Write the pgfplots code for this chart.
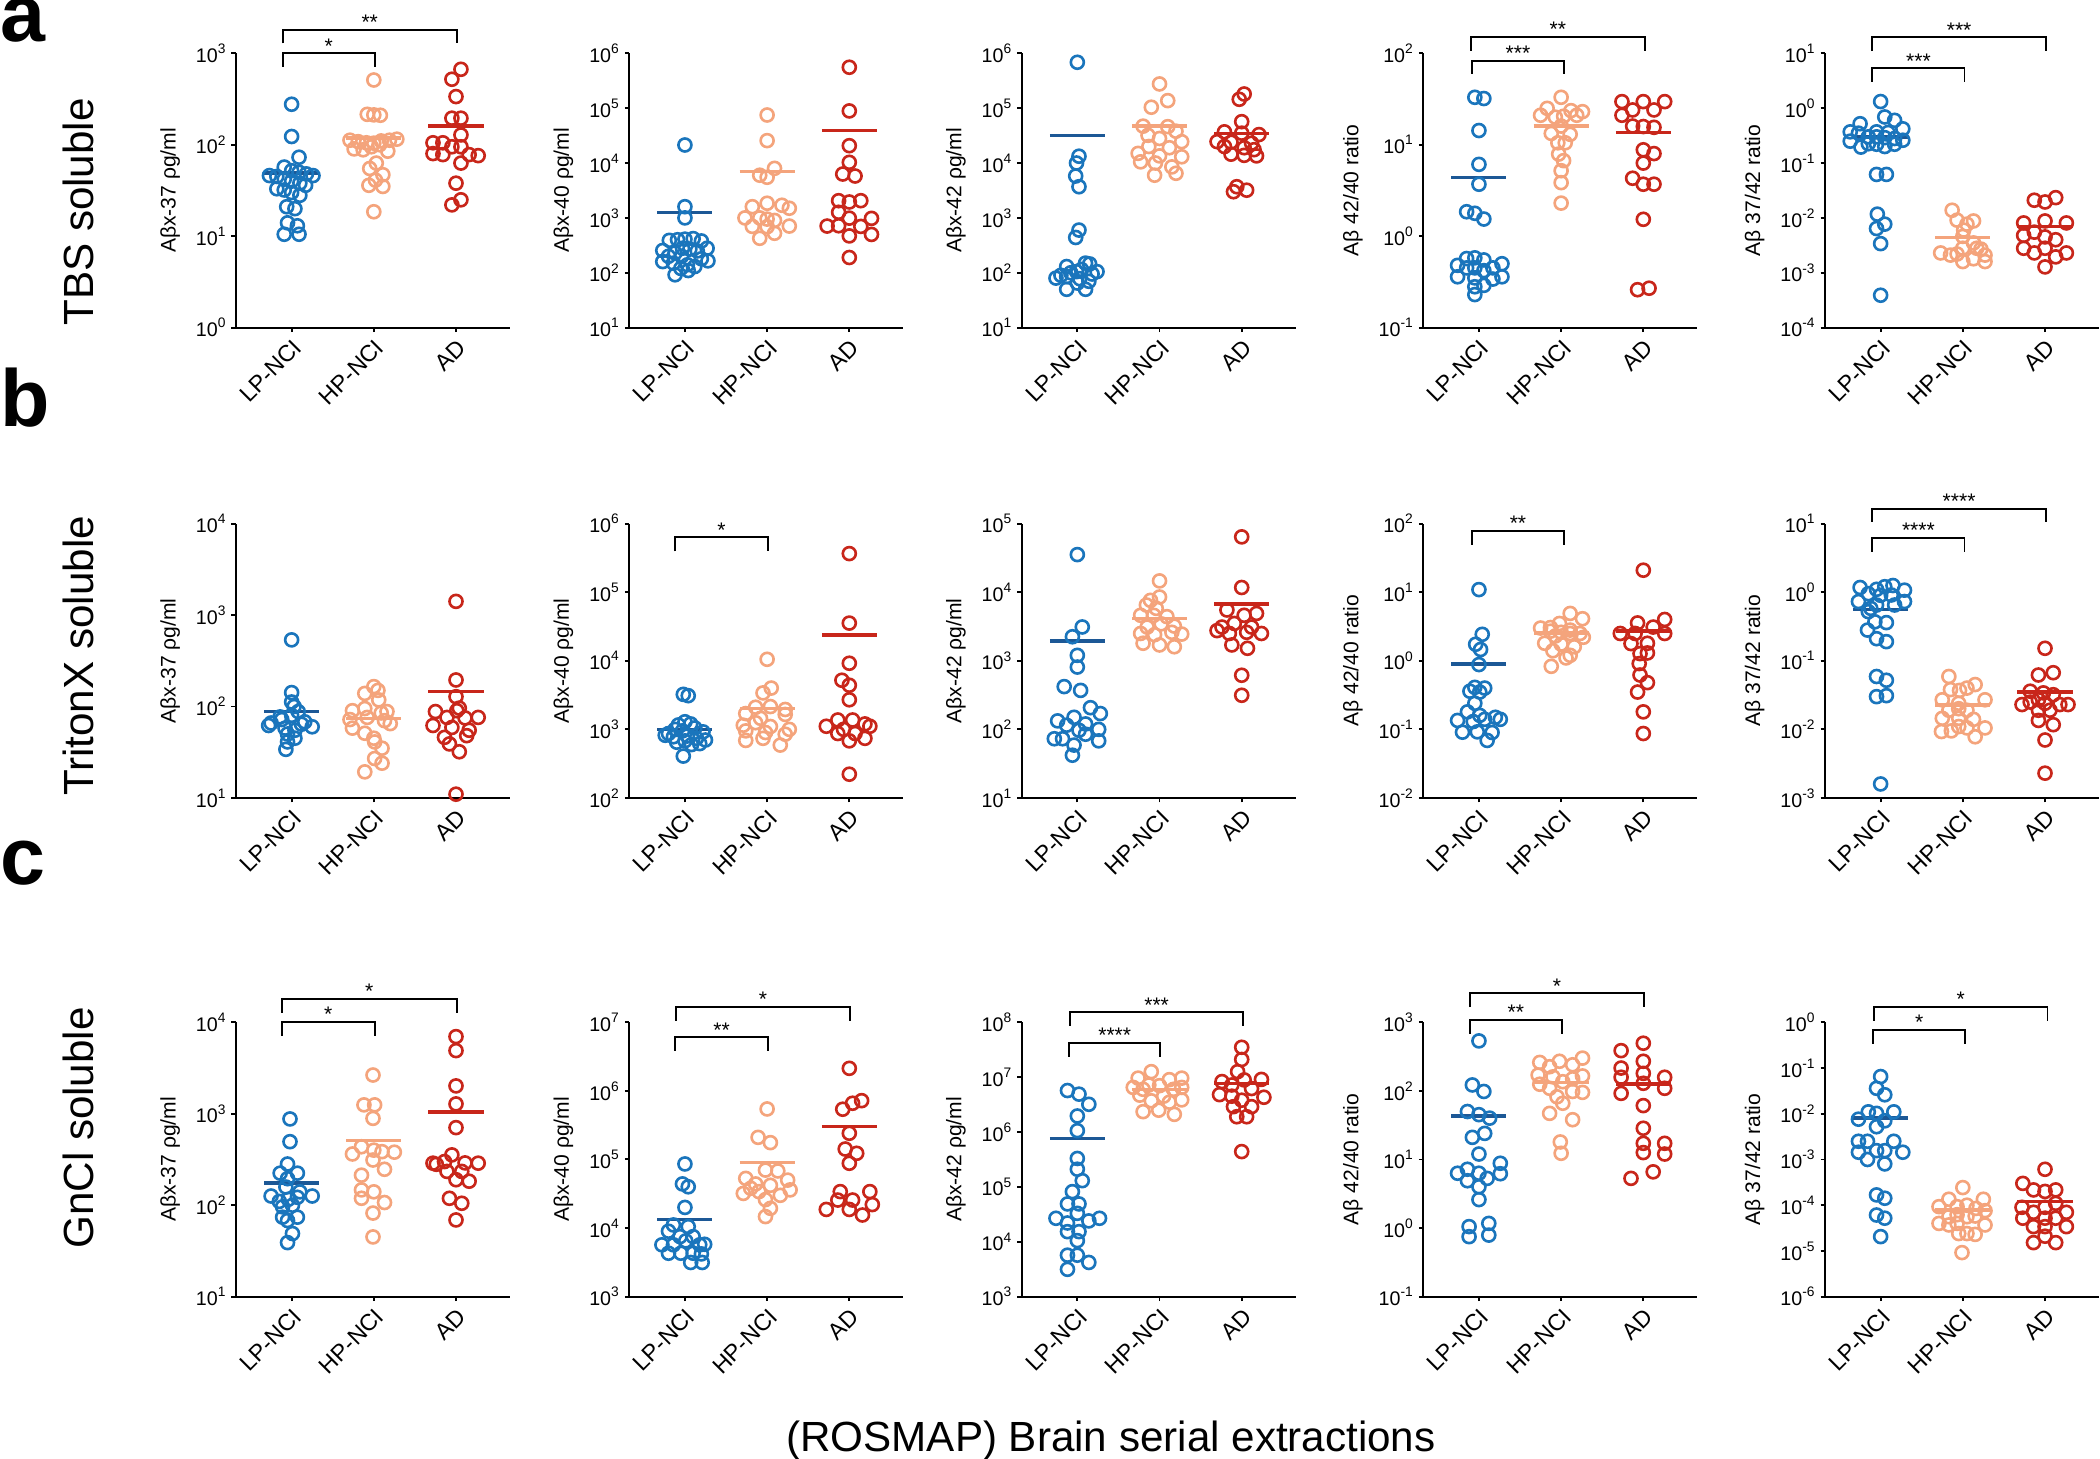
\documentclass[border=0pt]{standalone}
\usepackage{fontspec}
\setmainfont{Liberation Sans}
\usepackage{pgfplots}
\pgfplotsset{compat=1.18}

\definecolor{cBlue}{RGB}{26,117,188}
\definecolor{cBlueD}{RGB}{28,88,150}
\definecolor{cOran}{RGB}{244,164,124}
\definecolor{cRed}{RGB}{200,38,26}

\newcommand{\E}[1]{10\textsuperscript{#1}}

\pgfplotsset{
  scale only axis, width=2.74cm, height=2.744cm,
  xmin=0.323, xmax=3.657,
  xtick={1,2,3}, xticklabels={LP-NCI,HP-NCI,AD},
  axis x line*=bottom, axis y line*=left,
  tick align=outside, major tick length=0.45mm,
  axis line style={line width=0.55pt},
  tick style={black, line width=0.55pt},
  clip=false,
  xticklabel style={rotate=45, anchor=north east, font=\fontsize{6.6}{7}\selectfont, inner sep=1pt},
  yticklabel style={font=\fontsize{5.6}{6}\selectfont, inner sep=1pt},
  ylabel style={font=\fontsize{6}{7}\selectfont},
}

% group of dots: colour, coordinates
\newcommand{\grp}[2]{\addplot[only marks, mark=o, mark size=1.85pt, line width=0.75pt, color=#1] coordinates {#2};}
% mean bar: colour, x1, x2, y
\newcommand{\mean}[4]{\addplot[color=#1, line width=1pt] coordinates {(#2,#4) (#3,#4)};}
% bracket: x1, x2, y line, y legs, x text, text
\newcommand{\brk}[6]{%
  \addplot[black, line width=0.55pt] coordinates {(#1,#4) (#1,#3) (#2,#3) (#2,#4)};
  \node[font=\fontsize{6}{6}\selectfont, anchor=base, inner sep=0pt] at (axis cs:#5,#3) {#6};}

\begin{document}
\begin{tikzpicture}
\useasboundingbox (0,0) rectangle (21,14.59);

% ---------- row a: TBS soluble ----------
\begin{axis}[ymode=log, yminorticks=false, at={(2.36cm,11.313cm)}, anchor=south west, ymin=1, ymax=1e3,
  ytick={1,10,100,1000}, yticklabels={\E{0},\E{1},\E{2},\E{3}}, ylabel={Aβx-37 ρg/ml}]
\grp{cBlue}{(1.0,277)(1.0,123)(1.09,73)(0.91,57)(1.0,52)(1.09,50)(1.18,48)(1.26,46)(0.73,46)(0.82,45)(0.91,42)(1.0,40)(1.1,38)(1.17,36)(0.82,33)(0.91,32)(1.0,30)(1.1,28)(0.94,21)(1.04,20)(0.95,14)(1.07,13)(0.91,10.5)(1.09,10.5)}
\grp{cOran}{(2.0,510)(1.92,215)(2.0,212)(2.08,210)(1.71,112)(1.81,108)(1.91,105)(2.0,104)(2.09,110)(2.19,112)(2.28,115)(1.76,90)(1.87,88)(1.97,95)(2.07,100)(2.17,85)(2.03,63)(1.95,55)(2.11,47)(2.02,41)(1.94,36)(2.11,35)(2.0,18.5)}
\grp{cRed}{(3.06,668)(2.95,520)(3.0,336)(2.95,195)(3.06,195)(3.06,128)(2.72,105)(2.84,105)(2.95,95)(3.06,95)(2.72,80)(2.84,78)(3.16,78)(3.27,76)(3.06,63)(3.0,38)(2.95,22)(3.06,25)}
\mean{cBlueD}{0.665}{1.335}{49}
\mean{cOran}{1.665}{2.335}{118}
\mean{cRed}{2.665}{3.335}{160}
\brk{0.89}{2.01}{1000}{714}{1.45}{*}
\brk{0.89}{3.01}{1799}{1285}{1.95}{**}
\end{axis}

\begin{axis}[ymode=log, yminorticks=false, at={(6.293cm,11.313cm)}, anchor=south west, ymin=10, ymax=1e6,
  ytick={1e1,1e2,1e3,1e4,1e5,1e6}, yticklabels={\E{1},\E{2},\E{3},\E{4},\E{5},\E{6}}, ylabel={Aβx-40 ρg/ml}]
\grp{cBlue}{(1.0,21300)(1.0,1600)(1.0,1000)(0.73,255)(0.81,390)(0.91,400)(1.0,410)(1.1,420)(1.2,380)(1.27,280)(0.8,200)(0.88,230)(0.97,280)(1.06,270)(1.15,250)(1.28,165)(0.73,160)(0.86,150)(0.96,200)(1.03,140)(1.12,130)(0.88,92)(1.04,110)(1.2,180)(0.95,120)}
\grp{cOran}{(2.0,75000)(2.0,25600)(2.09,8000)(1.91,6000)(2.0,5500)(2.0,1850)(1.82,1600)(2.18,1700)(2.27,1500)(1.73,1000)(1.91,1000)(2.0,950)(2.09,900)(1.82,700)(2.0,690)(2.27,710)(1.91,425)(2.09,525)}
\grp{cRed}{(3.0,556000)(3.0,89000)(3.0,20700)(3.0,10300)(2.92,6300)(3.07,5800)(2.87,2060)(3.0,1950)(3.14,2060)(2.87,1265)(3.0,990)(3.27,980)(2.73,710)(2.87,720)(3.14,700)(3.0,470)(3.27,500)(3.0,190)}
\mean{cBlueD}{0.665}{1.335}{1265}
\mean{cOran}{1.665}{2.335}{6970}
\mean{cRed}{2.665}{3.335}{38900}
\end{axis}

\begin{axis}[ymode=log, yminorticks=false, at={(10.217cm,11.313cm)}, anchor=south west, ymin=10, ymax=1e6,
  ytick={1e1,1e2,1e3,1e4,1e5,1e6}, yticklabels={\E{1},\E{2},\E{3},\E{4},\E{5},\E{6}}, ylabel={Aβx-42 ρg/ml}]
\grp{cBlue}{(1.0,685000)(1.02,13300)(0.99,10000)(0.98,5800)(1.02,3700)(1.02,600)(0.98,440)(0.87,130)(1.1,150)(0.74,80)(1.24,105)(0.99,105)(0.87,85)(1.14,70)(0.87,50)(1.1,50)(0.92,100)(1.05,115)(1.18,95)(0.8,90)(1.03,78)(1.0,65)(1.15,145)}
\grp{cOran}{(2.0,276000)(2.1,137000)(1.9,104000)(1.8,47000)(2.1,46000)(2.2,38000)(1.86,32000)(2.0,28000)(2.27,24500)(1.87,20000)(2.12,19000)(1.74,15000)(2.0,13500)(2.27,13000)(1.77,10500)(1.95,10000)(2.15,8500)(2.2,6500)(1.94,6000)}
\grp{cRed}{(3.03,181000)(2.97,145000)(3.0,56700)(2.79,37000)(3.0,35000)(3.21,33000)(2.7,24500)(2.87,24000)(3.12,23000)(2.79,20000)(3.03,19000)(3.15,17500)(2.87,14500)(3.03,13800)(3.18,13500)(2.94,3700)(3.06,3200)(2.9,3000)}
\mean{cBlueD}{0.665}{1.335}{32000}
\mean{cOran}{1.665}{2.335}{47400}
\mean{cRed}{2.665}{3.335}{34600}
\end{axis}

\begin{axis}[ymode=log, yminorticks=false, at={(14.233cm,11.313cm)}, anchor=south west, ymin=0.1, ymax=100,
  ytick={0.1,1,10,100}, yticklabels={\E{-1},\E{0},\E{1},\E{2}}, ylabel={Aβ 42/40 ratio}]
\grp{cBlue}{(0.95,33)(1.06,32)(1.0,14.3)(1.0,6.1)(1.0,3.7)(0.85,1.85)(0.95,1.78)(1.06,1.54)(0.85,0.57)(0.95,0.58)(1.06,0.55)(0.74,0.48)(1.28,0.5)(0.85,0.45)(0.95,0.45)(1.06,0.42)(1.17,0.45)(0.74,0.36)(1.28,0.36)(1.17,0.34)(0.95,0.35)(1.06,0.29)(0.95,0.28)(0.95,0.23)}
\grp{cOran}{(2.0,33)(1.83,25)(2.12,23.6)(2.26,23)(1.75,21)(1.93,20)(2.03,20.5)(2.19,21)(2.0,16)(1.88,13.3)(2.11,13)(1.96,10.5)(2.05,10.5)(1.97,7.9)(2.03,6.7)(2.0,5.2)(2.0,3.85)(2.0,2.3)}
\grp{cRed}{(2.74,29.6)(3.0,29.6)(3.26,29.6)(2.87,24)(3.13,24)(2.74,21)(2.87,16)(3.0,15.8)(3.13,15.5)(3.0,8.8)(3.13,8)(3.0,6.3)(2.87,4.3)(3.0,3.7)(3.13,3.7)(3.0,1.53)(2.93,0.26)(3.07,0.27)}
\mean{cBlueD}{0.665}{1.335}{4.4}
\mean{cOran}{1.665}{2.335}{16}
\mean{cRed}{2.665}{3.335}{13.6}
\brk{0.91}{2.04}{83}{59.4}{1.475}{***}
\brk{0.9}{3.02}{152}{107}{1.96}{**}
\end{axis}

\begin{axis}[ymode=log, yminorticks=false, at={(18.25cm,11.313cm)}, anchor=south west, ymin=1e-4, ymax=10,
  ytick={1e-4,1e-3,1e-2,1e-1,1,10}, yticklabels={\E{-4},\E{-3},\E{-2},\E{-1},\E{0},\E{1}}, ylabel={Aβ 37/42 ratio}]
\grp{cBlue}{(1.0,1.32)(1.05,0.69)(1.17,0.6)(0.75,0.52)(0.63,0.37)(1.27,0.42)(0.95,0.37)(1.09,0.36)(0.73,0.35)(0.85,0.3)(0.95,0.3)(1.05,0.29)(1.17,0.28)(1.27,0.26)(0.63,0.25)(0.85,0.225)(0.95,0.22)(1.05,0.2)(1.17,0.22)(0.76,0.195)(0.95,0.062)(1.07,0.062)(0.96,0.0117)(1.05,0.0077)(0.95,0.0064)(1.0,0.0034)(1.0,0.00039)}
\grp{cOran}{(1.87,0.0138)(1.93,0.0091)(2.13,0.0088)(2.05,0.0077)(2.01,0.006)(2.0,0.0046)(2.13,0.0035)(1.73,0.0023)(1.85,0.0021)(2.0,0.0028)(2.17,0.0028)(2.27,0.0021)(1.93,0.0022)(2.0,0.0016)(2.13,0.0018)(2.27,0.0016)(2.22,0.0027)}
\grp{cRed}{(2.87,0.021)(3.0,0.0195)(3.13,0.0234)(2.74,0.0081)(3.0,0.0088)(3.26,0.0081)(2.74,0.0048)(2.87,0.0055)(3.0,0.0045)(3.13,0.004)(2.74,0.0028)(2.87,0.0023)(3.0,0.0028)(3.13,0.00195)(3.26,0.0023)(3.0,0.00128)}
\mean{cBlueD}{0.665}{1.335}{0.3}
\mean{cOran}{1.665}{2.335}{0.0044}
\mean{cRed}{2.665}{3.335}{0.007}
\brk{0.9}{2.02}{5.33}{3.05}{1.46}{***}
\brk{0.9}{3.01}{19.5}{10.9}{1.955}{***}
\end{axis}

% ---------- row b: TritonX soluble ----------
\begin{axis}[ymode=log, yminorticks=false, at={(2.36cm,6.61cm)}, anchor=south west, ymin=10, ymax=1e4,
  ytick={1e1,1e2,1e3,1e4}, yticklabels={\E{1},\E{2},\E{3},\E{4}}, ylabel={Aβx-37 ρg/ml}]
\grp{cBlue}{(1.0,535)(1.0,142)(1.0,112)(1.03,100)(0.75,66)(0.86,77)(1.0,80)(1.16,68)(0.72,62)(0.92,58)(1.12,64)(1.25,60)(1.04,55)(0.95,50)(1.04,45)(0.95,41)(1.08,88)(0.88,72)(0.93,34)}
\grp{cOran}{(2.0,165)(1.89,139)(2.06,118)(2.05,150)(1.74,90)(1.89,95)(2.16,88)(1.71,72)(1.92,76)(2.09,85)(1.74,58)(1.89,51)(2.13,70)(2.01,41)(2.1,35)(2.1,24)(2.01,27)(1.89,19.3)(2.2,65)(2.0,45)}
\grp{cRed}{(3.0,1410)(3.0,195)(3.0,128)(2.75,88)(2.89,76)(3.04,96)(3.27,76)(3.11,75)(2.72,62)(2.95,59)(3.16,55)(2.86,46)(3.13,48)(3.01,90)(2.92,39)(3.04,32)(3.0,11)}
\mean{cBlueD}{0.665}{1.335}{88}
\mean{cOran}{1.665}{2.335}{74}
\mean{cRed}{2.665}{3.335}{145}
\end{axis}

\begin{axis}[ymode=log, yminorticks=false, at={(6.293cm,6.61cm)}, anchor=south west, ymin=100, ymax=1e6,
  ytick={1e2,1e3,1e4,1e5,1e6}, yticklabels={\E{2},\E{3},\E{4},\E{5},\E{6}}, ylabel={Aβx-40 ρg/ml}]
\grp{cBlue}{(0.98,3240)(1.04,3100)(1.0,1290)(0.92,1160)(1.07,1200)(0.8,870)(0.88,1000)(0.97,950)(1.12,1050)(1.22,920)(0.76,820)(0.86,780)(1.03,800)(1.14,740)(1.25,700)(0.9,650)(1.0,680)(1.18,620)(1.08,600)(0.98,408)}
\grp{cOran}{(2.0,10500)(2.05,4000)(1.95,3400)(1.86,2100)(2.04,2150)(2.22,1950)(1.74,1700)(1.92,1450)(2.22,1650)(1.71,1150)(1.86,1250)(2.04,1100)(2.27,1000)(1.74,950)(1.98,900)(2.22,850)(1.74,690)(1.95,740)(2.16,590)}
\grp{cRed}{(3.0,365000)(3.0,35400)(3.0,9200)(2.91,5200)(3.0,4400)(3.0,2700)(2.72,1110)(2.86,1370)(3.04,1370)(3.19,1200)(3.25,1110)(2.86,870)(3.07,870)(3.19,740)(3.0,680)(2.93,1000)(3.0,222)}
\mean{cBlueD}{0.665}{1.335}{1000}
\mean{cOran}{1.665}{2.335}{2020}
\mean{cRed}{2.665}{3.335}{23900}
\brk{0.88}{2.01}{631000}{394000}{1.445}{*}
\end{axis}

\begin{axis}[ymode=log, yminorticks=false, at={(10.217cm,6.61cm)}, anchor=south west, ymin=10, ymax=1e5,
  ytick={1e1,1e2,1e3,1e4,1e5}, yticklabels={\E{1},\E{2},\E{3},\E{4},\E{5}}, ylabel={Aβx-42 ρg/ml}]
\grp{cBlue}{(1.0,35300)(1.06,3110)(0.94,2240)(1.0,1200)(1.0,810)(0.84,420)(1.04,370)(1.16,207)(0.76,133)(0.96,150)(1.28,170)(0.72,73)(0.87,115)(1.02,97)(1.26,100)(0.82,73)(0.96,59)(1.1,85)(1.26,68)(0.94,42)(1.1,120)}
\grp{cOran}{(2.0,14600)(2.0,8500)(1.89,7600)(1.84,6500)(1.96,5800)(1.77,4600)(1.93,4600)(2.09,4400)(2.02,3450)(2.18,3200)(1.85,3100)(1.77,2500)(1.94,2400)(2.15,2600)(2.27,2450)(1.8,1800)(2.0,1700)(2.18,1600)}
\grp{cRed}{(3.0,64000)(3.0,11700)(2.82,5500)(3.03,4600)(3.18,4900)(2.76,3100)(2.91,3500)(3.12,3100)(3.24,2500)(2.7,2750)(2.85,2500)(3.06,2600)(2.88,1700)(3.07,1520)(3.0,615)(3.0,314)}
\mean{cBlueD}{0.665}{1.335}{1945}
\mean{cOran}{1.665}{2.335}{4120}
\mean{cRed}{2.665}{3.335}{6670}
\end{axis}

\begin{axis}[ymode=log, yminorticks=false, at={(14.233cm,6.61cm)}, anchor=south west, ymin=0.01, ymax=100,
  ytick={0.01,0.1,1,10,100}, yticklabels={\E{-2},\E{-1},\E{0},\E{1},\E{2}}, ylabel={Aβ 42/40 ratio}]
\grp{cBlue}{(1.0,10.9)(1.04,2.43)(0.96,1.74)(1.02,1.46)(1.0,0.88)(0.95,0.41)(1.07,0.4)(0.89,0.36)(1.01,0.35)(0.95,0.24)(0.86,0.18)(1.01,0.16)(1.2,0.15)(0.74,0.135)(0.93,0.13)(1.07,0.14)(1.26,0.14)(0.8,0.091)(0.98,0.092)(1.16,0.09)(1.1,0.069)}
\grp{cOran}{(2.11,4.9)(2.26,4.1)(1.98,3.5)(1.87,3.05)(1.75,3.0)(2.11,2.8)(1.87,2.7)(2.0,2.6)(2.23,2.5)(1.93,2.3)(2.11,2.5)(2.27,2.2)(1.8,1.8)(2.0,1.75)(2.16,1.6)(1.9,1.4)(2.11,1.2)(2.06,1.1)(1.88,0.83)}
\grp{cRed}{(3.0,20.9)(2.93,3.56)(3.26,4.0)(2.72,2.5)(2.9,2.5)(3.12,3.1)(3.26,2.5)(2.85,1.78)(3.05,1.8)(2.96,1.27)(3.05,1.3)(2.95,0.91)(2.96,0.62)(3.05,0.48)(2.93,0.35)(3.0,0.18)(3.0,0.087)}
\mean{cBlueD}{0.665}{1.335}{0.89}
\mean{cOran}{1.665}{2.335}{2.55}
\mean{cRed}{2.665}{3.335}{2.72}
\brk{0.91}{2.04}{78}{49.4}{1.475}{**}
\end{axis}

\begin{axis}[ymode=log, yminorticks=false, at={(18.25cm,6.61cm)}, anchor=south west, ymin=1e-3, ymax=10,
  ytick={1e-3,1e-2,1e-1,1,10}, yticklabels={\E{-3},\E{-2},\E{-1},\E{0},\E{1}}, ylabel={Aβ 37/42 ratio}]
\grp{cBlue}{(0.75,1.17)(1.15,1.25)(1.29,1.07)(1.05,1.2)(0.95,1.1)(0.85,0.95)(1.13,0.91)(1.0,0.9)(0.73,0.73)(1.29,0.73)(0.95,0.65)(1.17,0.65)(0.88,0.58)(0.85,0.52)(0.93,0.37)(1.07,0.36)(0.84,0.28)(0.95,0.21)(1.07,0.19)(0.95,0.059)(1.07,0.052)(0.95,0.030)(1.07,0.031)(1.0,0.0016)}
\grp{cOran}{(1.83,0.059)(1.85,0.038)(1.96,0.037)(2.05,0.04)(2.15,0.045)(1.75,0.027)(1.95,0.024)(2.27,0.027)(1.83,0.019)(2.05,0.019)(1.95,0.02)(1.75,0.0145)(1.95,0.0145)(2.13,0.014)(2.05,0.0105)(2.27,0.0105)(1.95,0.011)(1.74,0.0093)(1.86,0.0095)(2.15,0.0078)}
\grp{cRed}{(3.0,0.152)(2.92,0.062)(3.1,0.067)(2.82,0.036)(2.98,0.034)(3.1,0.032)(2.92,0.027)(2.72,0.023)(2.82,0.025)(3.0,0.024)(3.18,0.023)(3.28,0.023)(2.92,0.019)(3.06,0.019)(2.92,0.0135)(3.1,0.0117)(3.0,0.007)(3.0,0.0023)}
\mean{cBlueD}{0.665}{1.335}{0.56}
\mean{cOran}{1.665}{2.335}{0.0228}
\mean{cRed}{2.665}{3.335}{0.0348}
\brk{0.9}{2.02}{6.2}{3.87}{1.46}{****}
\brk{0.9}{3.01}{16.5}{10.6}{1.955}{****}
\end{axis}

% ---------- row c: GnCl soluble ----------
\begin{axis}[ymode=log, yminorticks=false, at={(2.36cm,1.623cm)}, anchor=south west, ymin=10, ymax=1e4,
  ytick={1e1,1e2,1e3,1e4}, yticklabels={\E{1},\E{2},\E{3},\E{4}}, ylabel={Aβx-37 ρg/ml}]
\grp{cBlue}{(0.98,877)(0.98,495)(0.95,282)(0.86,224)(1.07,224)(0.95,195)(0.93,158)(1.1,140)(0.75,126)(0.96,116)(1.07,122)(1.25,126)(0.85,110)(0.89,96)(1.01,100)(0.89,74)(1.07,74)(0.95,68)(1.01,49)(0.95,39)}
\grp{cOran}{(1.99,2650)(1.88,1250)(2.01,1250)(1.99,890)(1.85,436)(2.0,400)(2.1,385)(1.74,363)(2.25,380)(1.99,312)(2.13,247)(1.85,213)(1.85,147)(2.0,140)(1.85,119)(2.13,107)(1.99,82)(1.99,45)}
\grp{cRed}{(3.0,6970)(3.0,4900)(3.0,2015)(3.0,1280)(3.0,705)(2.95,355)(2.72,288)(2.86,300)(3.11,290)(3.27,288)(2.76,280)(2.89,234)(3.07,234)(3.16,183)(3.0,190)(2.92,119)(3.07,105)(3.0,69)}
\mean{cBlueD}{0.665}{1.335}{176}
\mean{cOran}{1.665}{2.335}{508}
\mean{cRed}{2.665}{3.335}{1040}
\brk{0.88}{2.01}{10160}{7080}{1.445}{*}
\brk{0.88}{3.01}{18000}{12760}{1.945}{*}
\end{axis}

\begin{axis}[ymode=log, yminorticks=false, at={(6.293cm,1.623cm)}, anchor=south west, ymin=1e3, ymax=1e7,
  ytick={1e3,1e4,1e5,1e6,1e7}, yticklabels={\E{3},\E{4},\E{5},\E{6},\E{7}}, ylabel={Aβx-40 ρg/ml}]
\grp{cBlue}{(1.0,86000)(0.97,44000)(1.04,40000)(1.0,20000)(0.86,11100)(1.04,10500)(0.8,9000)(0.94,7500)(1.1,7500)(0.72,5700)(0.86,5700)(1.01,6500)(1.18,5700)(1.24,5800)(0.8,4300)(0.95,4300)(1.1,4300)(1.2,4200)(1.07,3150)(1.21,3150)}
\grp{cOran}{(2.0,545000)(1.89,210000)(2.04,176000)(1.98,70000)(1.74,53000)(2.13,68000)(1.71,32000)(1.86,44000)(2.04,42000)(2.28,36000)(2.16,30000)(1.98,26000)(2.04,19400)(1.98,14700)(1.8,38000)(1.9,34000)(2.25,50000)}
\grp{cRed}{(3.0,2.13e6)(2.92,540000)(3.15,720000)(3.04,660000)(3.0,241000)(2.95,142000)(3.09,123000)(3.0,88000)(2.89,34000)(2.72,18700)(2.86,25600)(3.04,25600)(3.25,34000)(3.16,15500)(3.0,18700)(3.28,22000)}
\mean{cBlueD}{0.665}{1.335}{13400}
\mean{cOran}{1.665}{2.335}{90000}
\mean{cRed}{2.665}{3.335}{301000}
\brk{0.88}{2.01}{6.04e6}{3.86e6}{1.445}{**}
\brk{0.89}{3.01}{1.69e7}{1.06e7}{1.95}{*}
\end{axis}

\begin{axis}[ymode=log, yminorticks=false, at={(10.217cm,1.623cm)}, anchor=south west, ymin=1e3, ymax=1e8,
  ytick={1e3,1e4,1e5,1e6,1e7,1e8}, yticklabels={\E{3},\E{4},\E{5},\E{6},\E{7},\E{8}}, ylabel={Aβx-42 ρg/ml}]
\grp{cBlue}{(0.88,5.7e6)(1.02,4.9e6)(1.14,3.2e6)(1.0,1.96e6)(1.0,1.06e6)(1.0,330000)(1.0,210000)(1.06,130000)(0.94,82000)(0.88,49000)(1.02,49000)(1.0,33000)(0.74,26800)(1.27,26800)(1.14,24000)(0.88,22000)(0.88,15300)(1.02,15300)(1.0,10500)(0.88,5700)(1.0,5700)(1.14,4200)(0.88,3150)}
\grp{cOran}{(1.9,12.6e6)(1.74,9.6e6)(2.12,9e6)(2.27,9.6e6)(1.87,7.2e6)(2.0,7e6)(1.8,6e6)(2.17,6e6)(1.68,6.5e6)(2.27,6.5e6)(1.76,4.7e6)(2.05,4.5e6)(2.27,3.85e6)(1.9,3.7e6)(2.12,3.5e6)(1.99,2.5e6)(1.8,2.35e6)(2.18,2.1e6)}
\grp{cRed}{(3.0,35e6)(3.0,21e6)(2.95,12.6e6)(2.76,8.3e6)(3.03,8.9e6)(3.24,9.1e6)(2.88,7.2e6)(3.12,6.2e6)(2.73,4.8e6)(2.88,4.5e6)(3.27,4.3e6)(3.0,3.8e6)(2.9,2.9e6)(3.12,2.9e6)(2.94,1.9e6)(3.06,1.9e6)(3.0,440000)}
\mean{cBlueD}{0.665}{1.335}{770000}
\mean{cOran}{1.665}{2.335}{6e6}
\mean{cRed}{2.665}{3.335}{7.7e6}
\brk{0.9}{2.01}{4.27e7}{2.37e7}{1.455}{****}
\brk{0.91}{3.02}{1.52e8}{8.57e7}{1.965}{***}
\end{axis}

\begin{axis}[ymode=log, yminorticks=false, at={(14.233cm,1.623cm)}, anchor=south west, ymin=0.1, ymax=1e3,
  ytick={0.1,1,10,100,1000}, yticklabels={\E{-1},\E{0},\E{1},\E{2},\E{3}}, ylabel={Aβ 42/40 ratio}]
\grp{cBlue}{(1.0,535)(0.92,122)(1.06,98)(0.86,50)(1.0,45)(1.13,40)(1.07,24)(0.92,21)(1.0,12)(1.26,8.8)(0.86,7.2)(0.74,6.3)(1.0,6.3)(1.26,6.2)(0.86,4.9)(1.1,5.3)(1.0,4.0)(1.0,2.6)(0.88,1.05)(1.12,1.17)(0.88,0.75)(1.12,0.79)}
\grp{cOran}{(2.26,300)(1.98,270)(2.14,240)(1.74,260)(1.86,225)(1.72,170)(1.9,160)(2.26,165)(2.14,150)(2.02,136)(1.86,109)(1.74,125)(2.14,98)(2.26,95)(1.95,82)(2.02,66)(1.86,47)(2.14,38)(1.99,18)(2.0,12.3)}
\grp{cRed}{(3.0,495)(2.73,386)(3.0,270)(2.73,215)(3.0,180)(2.73,158)(3.26,158)(3.0,129)(2.73,92)(3.26,109)(3.0,61)(3.0,28.5)(3.0,17.2)(3.26,17.2)(3.0,12.6)(3.26,12)(3.12,6.6)(2.85,5.3)}
\mean{cBlueD}{0.665}{1.335}{43}
\mean{cOran}{1.665}{2.335}{132}
\mean{cRed}{2.665}{3.335}{126}
\brk{0.89}{2.01}{1081}{676}{1.45}{**}
\brk{0.89}{3.01}{2649}{1656}{1.95}{*}
\end{axis}

\begin{axis}[ymode=log, yminorticks=false, at={(18.25cm,1.623cm)}, anchor=south west, ymin=1e-6, ymax=1,
  ytick={1e-6,1e-5,1e-4,1e-3,1e-2,1e-1,1}, yticklabels={\E{-6},\E{-5},\E{-4},\E{-3},\E{-2},\E{-1},\E{0}}, ylabel={Aβ 37/42 ratio}]
\grp{cBlue}{(1.0,0.065)(0.95,0.036)(1.05,0.026)(0.85,0.011)(0.95,0.0102)(1.16,0.011)(1.05,0.007)(0.73,0.0076)(0.95,0.0052)(0.73,0.0025)(0.84,0.0025)(1.16,0.0025)(0.95,0.00156)(0.73,0.00144)(1.05,0.00156)(1.27,0.00144)(0.84,0.001)(1.05,0.0008)(0.95,0.000168)(1.05,0.000142)(0.95,6.1e-5)(1.05,5.2e-5)(1.0,2.06e-5)}
\grp{cOran}{(2.0,0.000243)(1.83,0.000135)(2.25,0.000135)(1.71,9.3e-5)(1.93,9.3e-5)(2.05,1e-4)(2.16,8.5e-5)(2.27,7.6e-5)(1.83,5.6e-5)(2.05,5.6e-5)(2.15,5.8e-5)(1.93,6.2e-5)(1.71,4.0e-5)(1.93,4.0e-5)(2.27,3.7e-5)(1.83,3.7e-5)(1.95,2.4e-5)(2.05,2.4e-5)(2.15,2.3e-5)(1.99,9.2e-6)}
\grp{cRed}{(3.0,0.00061)(2.73,0.0003)(2.86,0.000216)(3.0,0.0002)(3.13,0.000216)(2.72,9.0e-5)(3.0,9.0e-5)(3.13,0.00011)(2.86,7.0e-5)(3.26,7.0e-5)(2.73,5.2e-5)(3.0,5.2e-5)(3.13,5.2e-5)(2.86,3.4e-5)(3.0,3.4e-5)(3.26,3.4e-5)(2.86,1.52e-5)(3.13,1.52e-5)(3.0,2.1e-5)}
\mean{cBlueD}{0.665}{1.335}{0.008}
\mean{cOran}{1.665}{2.335}{7.9e-5}
\mean{cRed}{2.665}{3.335}{0.00012}
\brk{0.91}{2.03}{0.679}{0.336}{1.47}{*}
\brk{0.92}{3.03}{2.2}{1.09}{1.975}{*}
\end{axis}

% row labels, panel letters, common title
\node[rotate=90, font=\fontsize{12}{12}\selectfont] at (0.78,12.47) {TBS soluble};
\node[rotate=90, font=\fontsize{12}{12}\selectfont] at (0.78,8.03) {TritonX soluble};
\node[rotate=90, font=\fontsize{12}{12}\selectfont] at (0.78,3.31) {GnCl soluble};
\node[anchor=base west, inner sep=0pt, font=\fontsize{23}{23}\selectfont\bfseries] at (0,14.17) {a};
\node[anchor=base west, inner sep=0pt, font=\fontsize{23}{23}\selectfont\bfseries] at (0,10.32) {b};
\node[anchor=base west, inner sep=0pt, font=\fontsize{23}{23}\selectfont\bfseries] at (0,5.74) {c};
\node[anchor=base, font=\fontsize{12}{12}\selectfont] at (11.11,0.07) {(ROSMAP) Brain serial extractions};
\end{tikzpicture}
\end{document}
